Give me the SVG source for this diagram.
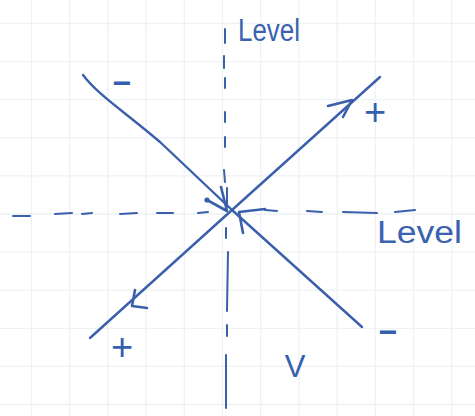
<svg xmlns="http://www.w3.org/2000/svg" width="475" height="416" viewBox="0 0 475 416">
<defs>
<style>
.grid line{stroke:#edf2f5;stroke-width:1.3}
.ink{fill:none;stroke:#3a5fab;stroke-width:2.4;stroke-linecap:round;stroke-linejoin:round}
.dash{fill:none;stroke:#3a5fab;stroke-width:2;stroke-linecap:round}
.arrow{fill:none;stroke:#3a5fab;stroke-width:2.6;stroke-linecap:round;stroke-linejoin:round}
.lbl{font-family:"Liberation Sans",Arial,sans-serif;fill:#3560b0;text-anchor:middle}
.word{font-family:"Liberation Sans",Arial,sans-serif;fill:#3a62b0}
</style>
</defs>
<rect width="475" height="416" fill="#ffffff"/>
<g class="grid" id="grid">
<line x1="31.5" y1="0" x2="31.5" y2="416"/>
<line x1="69.7" y1="0" x2="69.7" y2="416"/>
<line x1="107.9" y1="0" x2="107.9" y2="416"/>
<line x1="146.1" y1="0" x2="146.1" y2="416"/>
<line x1="184.3" y1="0" x2="184.3" y2="416"/>
<line x1="222.5" y1="0" x2="222.5" y2="416"/>
<line x1="260.7" y1="0" x2="260.7" y2="416"/>
<line x1="298.9" y1="0" x2="298.9" y2="416"/>
<line x1="337.1" y1="0" x2="337.1" y2="416"/>
<line x1="375.3" y1="0" x2="375.3" y2="416"/>
<line x1="413.5" y1="0" x2="413.5" y2="416"/>
<line x1="451.7" y1="0" x2="451.7" y2="416"/>
<line x1="0" y1="23.5" x2="475" y2="23.5"/>
<line x1="0" y1="61.6" x2="475" y2="61.6"/>
<line x1="0" y1="99.7" x2="475" y2="99.7"/>
<line x1="0" y1="137.8" x2="475" y2="137.8"/>
<line x1="0" y1="175.9" x2="475" y2="175.9"/>
<line x1="0" y1="214" x2="475" y2="214"/>
<line x1="0" y1="252.1" x2="475" y2="252.1"/>
<line x1="0" y1="290.2" x2="475" y2="290.2"/>
<line x1="0" y1="328.3" x2="475" y2="328.3"/>
<line x1="0" y1="366.4" x2="475" y2="366.4"/>
<line x1="0" y1="404.5" x2="475" y2="404.5"/>
</g>
<g id="level-axes">
<g id="vertical-level" class="dash">
<line x1="225" y1="29" x2="225" y2="43"/>
<line x1="224" y1="56" x2="224" y2="68"/>
<line x1="225" y1="78" x2="225" y2="88"/>
<line x1="225" y1="112" x2="225" y2="122"/>
<line x1="225" y1="137" x2="225" y2="147"/>
<line x1="224" y1="170" x2="225" y2="182"/>
<line x1="227" y1="188" x2="227" y2="207"/>
<line x1="226" y1="228" x2="226" y2="238"/>
<line x1="228" y1="252" x2="227" y2="311"/>
<line x1="227" y1="325" x2="227" y2="336"/>
<line x1="226" y1="355" x2="226" y2="408"/>
</g>
<g id="horizontal-level" class="dash">
<line x1="13" y1="216" x2="30" y2="216"/>
<line x1="55" y1="214" x2="72" y2="213"/>
<line x1="82" y1="214" x2="92" y2="213"/>
<line x1="120" y1="214" x2="137" y2="213"/>
<line x1="157" y1="213" x2="173" y2="213"/>
<line x1="198" y1="213" x2="208" y2="212"/>
<line x1="265" y1="210" x2="277" y2="211"/>
<line x1="307" y1="211" x2="322" y2="212"/>
<line x1="343" y1="212" x2="377" y2="213"/>
<line x1="395" y1="212" x2="415" y2="210"/>
</g>
</g>
<g id="connectors">
<path id="line-minus" class="ink" d="M83,75 C98,95 125,112 160,142 L232,210 L362,327"/>
<path id="line-plus" class="ink" d="M90,338 L232,210 L380,77"/>
</g>
<g id="arrowheads">
<polyline id="arrow-top-right" class="arrow" points="328,106 352,100 343,117"/>
<polyline id="arrow-bottom-left" class="arrow" points="135,290 132,306 147,308"/>
<polyline id="arrow-center-left" class="arrow" points="207,200 227,211 221,187"/>
<circle cx="207" cy="200" r="2.6" fill="#3a5fab"/>
<polyline id="arrow-center-right" class="arrow" points="265,209 239,212 243,233"/>
</g>
<g id="labels">
<text id="minus-top" class="lbl" x="122" y="94" font-size="32" font-weight="bold">−</text>
<text id="minus-bottom" class="lbl" x="388" y="343" font-size="32" font-weight="bold">−</text>
<text id="plus-top" class="lbl" x="375" y="125" font-size="38">+</text>
<text id="plus-bottom" class="lbl" x="122" y="360" font-size="38">+</text>
<text id="v-label" class="lbl" x="295" y="377" font-size="31">V</text>
<text id="level-top" class="word" x="238" y="41" font-size="31" textLength="62" lengthAdjust="spacingAndGlyphs">Level</text>
<text id="level-right" class="word" x="377" y="243" font-size="31" textLength="85" lengthAdjust="spacingAndGlyphs" fill="#5577b0">Level</text>
</g>
</svg>
